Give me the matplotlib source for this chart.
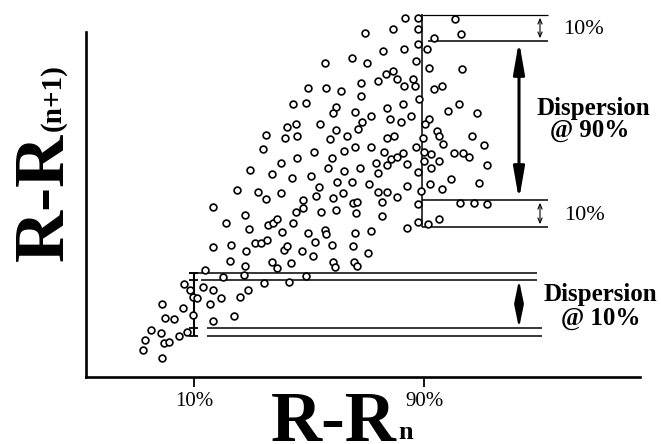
import matplotlib
matplotlib.use("Agg")
import matplotlib.pyplot as plt

plt.rcParams['font.family'] = ['Liberation Serif', 'DejaVu Serif']

# ---- data (arbitrary units) ----
x_vals = [237, 258, 266, 281, 213, 245, 226, 249, 268, 273, 277, 282, 293, 296, 213, 231, 246, 255, 261, 267,
          284, 287, 230, 245, 272, 277, 291, 205, 223, 244, 264, 289, 184, 190, 203, 213, 193, 197, 221, 240,
          248, 162, 183, 210, 165, 174, 193, 213, 234, 151, 161, 187, 145, 164, 169, 179, 143, 162,
          325, 308, 326, 341, 293, 306, 336, 333, 287, 296, 320, 266, 285, 297, 336, 330, 347, 263, 314, 344,
          297, 332, 281, 250, 272, 328, 344, 292, 311, 337, 319, 303, 316, 333, 343, 303, 321, 336, 308, 325,
          326, 315, 302, 313, 332, 333, 335, 306,
          405, 418, 455, 393, 365, 418, 434, 461, 418, 427, 383, 404, 352, 367, 416, 429, 462, 386, 393, 397,
          378, 361, 404, 413, 415, 434, 442, 361, 419, 459, 448, 477, 355, 371, 387, 403, 411, 390, 401, 429,
          425, 362, 358, 437, 439, 472, 443, 484, 387, 394, 423, 355, 371, 384, 391, 387, 397, 403, 416, 424,
          431, 454, 463, 469, 487, 424, 439, 431, 360, 376, 378, 407, 418, 451, 479, 352, 369, 407, 430, 442,
          378, 387, 397, 421, 353, 357, 382, 418, 460, 474, 487, 356, 382, 407, 418, 428, 439, 371, 355, 353,
          368, 354, 357]
y_vals = [254, 252, 245, 251, 237, 229, 221, 215, 219, 221, 225, 212, 221, 232, 197, 199, 193, 201, 201, 204,
          194, 198, 183, 178, 182, 176, 181, 174, 167, 169, 161, 162, 160, 154, 157, 154, 147, 146, 146, 147,
          154, 140, 136, 140, 126, 125, 129, 123, 128, 114, 111, 112, 104, 101, 102, 108, 94, 86,
          381, 356, 356, 353, 340, 341, 337, 331, 317, 320, 320, 309, 306, 308, 314, 305, 308, 295, 292, 293,
          286, 286, 281, 274, 270, 276, 273, 266, 268, 262, 257, 244, 248, 246, 251, 236, 232, 234, 211, 214,
          210, 202, 193, 188, 199, 182, 177, 168,
          426, 426, 425, 415, 411, 415, 406, 410, 400, 395, 393, 395, 386, 381, 383, 376, 375, 370, 373, 365,
          363, 361, 358, 365, 358, 355, 358, 348, 345, 340, 333, 331, 332, 328, 336, 340, 328, 325, 322, 325,
          320, 322, 315, 313, 308, 308, 300, 299, 306, 308, 306, 297, 297, 292, 285, 279, 287, 291, 297, 292,
          290, 291, 291, 287, 279, 283, 283, 276, 276, 281, 271, 280, 272, 265, 261, 262, 260, 258, 260, 255,
          252, 252, 247, 253, 241, 242, 242, 240, 241, 241, 240, 231, 228, 216, 222, 220, 225, 213, 211, 198,
          191, 182, 178]

tick_pos = [194, 424]
tick_labels = ["10%", "90%"]

# dispersion bands
x90 = 421.5
upper_levels = [429, 403, 244, 217]      # limits of the band at 90%
lower_levels = [171, 164, 116, 108]      # limits of the band at 10%
x10 = 193.5

fig = plt.figure(figsize=(6.61, 4.44), dpi=100)
ax = fig.add_axes([86 / 661, 67.5 / 444, (661 - 86) / 661, (444 - 67.5) / 444])
ax.set_xlim(86, 661)
ax.set_ylim(67.5, 444)
ax.patch.set_alpha(0)
for s in ['top', 'right']:
    ax.spines[s].set_visible(False)
ax.spines['left'].set_bounds(67.5, 412)
ax.spines['bottom'].set_bounds(86, 640)
for s in ['left', 'bottom']:
    ax.spines[s].set_linewidth(1.9)
ax.set_yticks([])
ax.set_xticks(tick_pos, tick_labels)
ax.tick_params(axis='x', length=7, width=1.3, direction='out', pad=4, labelsize=15)

# scatter
ax.scatter(x_vals, y_vals, s=24, facecolors='white', edgecolors='black',
           linewidths=1.2, clip_on=False, zorder=3)

lw = 1.1
# upper (90%) band
ax.vlines(x90, upper_levels[3], upper_levels[0] + 1, color='black', lw=lw, zorder=2, clip_on=False)
ax.hlines(upper_levels[0], x90, 548, color='black', lw=0.9, zorder=2, clip_on=False)
ax.hlines(upper_levels[1], 428, 548, color='black', lw=lw, zorder=2)
ax.hlines(upper_levels[2], x90, 548, color='black', lw=lw, zorder=2)
ax.hlines(upper_levels[3], x90, 548, color='black', lw=lw, zorder=2)

# lower (10%) band
ax.hlines(lower_levels[0], 189, 537, color='black', lw=lw, zorder=2)
ax.hlines(lower_levels[1], 201, 537, color='black', lw=lw, zorder=2)
ax.hlines(lower_levels[2], 207, 542, color='black', lw=lw, zorder=2)
ax.hlines(lower_levels[3], 207, 542, color='black', lw=lw, zorder=2)
ax.vlines(x10, lower_levels[3], lower_levels[0], color='black', lw=1.5, zorder=2)
ax.hlines(lower_levels, 189, 198, color='black', lw=1.3, zorder=2)

# arrows
big = dict(arrowstyle='<|-|>,head_length=1.9,head_width=0.33', mutation_scale=10,
           lw=2.2, color='black', shrinkA=0, shrinkB=0)
ax.annotate('', xy=(519, upper_levels[2]), xytext=(519, upper_levels[1]), arrowprops=big)
mid = dict(arrowstyle='<|-|>,head_length=1.3,head_width=0.27', mutation_scale=10,
           lw=1.6, color='black', shrinkA=0, shrinkB=0)
ax.annotate('', xy=(519, lower_levels[2]), xytext=(519, lower_levels[1]), arrowprops=mid)
small = dict(arrowstyle='<->,head_length=0.35,head_width=0.15', mutation_scale=10,
             lw=0.8, color='black', shrinkA=2, shrinkB=2)
ax.annotate('', xy=(540, upper_levels[1]), xytext=(540, upper_levels[0]), arrowprops=small)
ax.annotate('', xy=(540, upper_levels[3]), xytext=(540, upper_levels[2]), arrowprops=small)

# annotations text
ax.text(563, 410, "10%", fontsize=16, ha='left', va='baseline')
ax.text(564, 224, "10%", fontsize=16, ha='left', va='baseline')
ax.text(593, 329, "Dispersion", fontsize=18, fontweight='bold', ha='center', va='baseline')
ax.text(590, 307, "@ 90%", fontsize=18, fontweight='bold', ha='center', va='baseline')
ax.text(600, 143, "Dispersion", fontsize=18, fontweight='bold', ha='center', va='baseline')
ax.text(601, 119, "@ 10%", fontsize=18, fontweight='bold', ha='center', va='baseline')

# axis titles
fig.text(397 / 661, 3.5 / 444, "R-R", fontsize=51, fontweight='bold', ha='right', va='baseline')
fig.text(398 / 661, 5.0 / 444, "n", fontsize=19, fontweight='bold', ha='left', va='baseline')
fig.text(63 / 661, (444 - 261) / 444, "R-R", fontsize=52, fontweight='bold', rotation=90,
         rotation_mode='anchor', ha='left', va='baseline')
fig.text(60 / 661, (444 - 131) / 444, "(n+1)", fontsize=21, fontweight='bold', rotation=90,
         rotation_mode='anchor', ha='left', va='baseline')

fig.savefig("out.png", dpi=100, facecolor='white')
